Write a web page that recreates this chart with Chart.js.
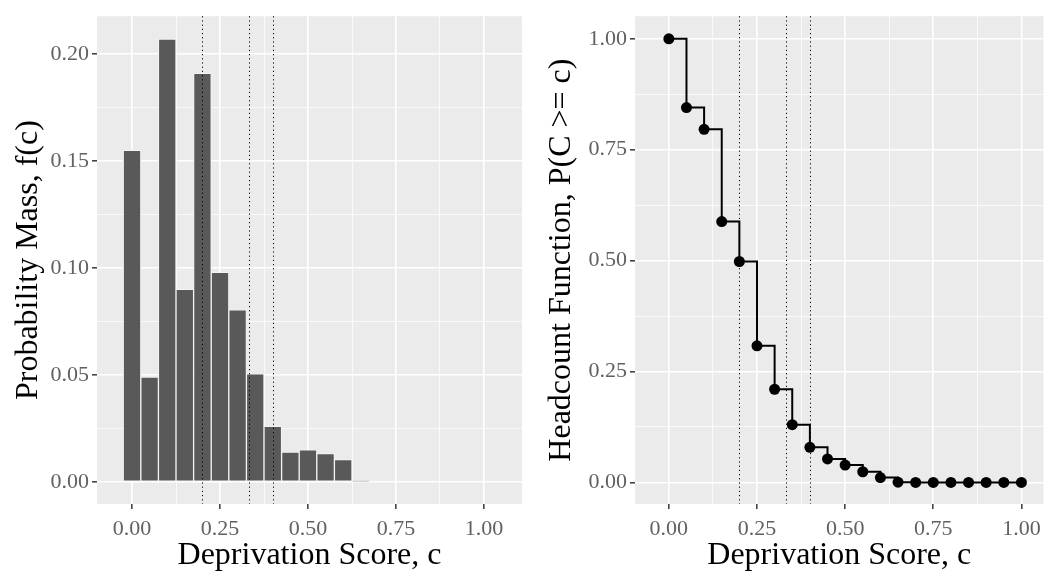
<!DOCTYPE html>
<html>
<head>
<meta charset="utf-8">
<script src="https://cdn.jsdelivr.net/npm/chart.js@4"></script>
<style>
  html, body { margin: 0; padding: 0; background: #fff; }
  #wrap { position: relative; width: 1049px; height: 572px; overflow: hidden; }
  #massChart { position: absolute; left: 0; top: 0; }
  #headChart { position: absolute; left: 530px; top: 0; }
</style>
</head>
<body>
<div id="wrap">
  <canvas id="massChart" width="528" height="572"></canvas>
  <canvas id="headChart" width="519" height="572"></canvas>
</div>
<script>
// deprivation scores (x) for both panels
const scores = [0, 0.05, 0.10, 0.15, 0.20, 0.25, 0.30, 0.35, 0.40, 0.45, 0.50,
                0.55, 0.60, 0.65, 0.70, 0.75, 0.80, 0.85, 0.90, 0.95, 1.00];
// left panel: probability mass f(c)
const massValues = [0.155, 0.049, 0.207, 0.090, 0.191, 0.098, 0.0805, 0.0505, 0.026,
                    0.014, 0.015, 0.0133, 0.0105, 0.0004];
// right panel: headcount P(C >= c)
const headValues = [1.000, 0.845, 0.796, 0.588, 0.498, 0.308, 0.210, 0.130, 0.079, 0.053,
                    0.039, 0.024, 0.011, 0.0005, 0, 0, 0, 0, 0, 0, 0];
// poverty cutoffs (dotted lines)
const cutoffs = [0.2, 1 / 3, 0.4];

const xTickLabels = ['0.00', '0.25', '0.50', '0.75', '1.00'];
const massTickLabels = ['0.00', '0.05', '0.10', '0.15', '0.20'];
const headTickLabels = ['0.00', '0.25', '0.50', '0.75', '1.00'];

const FONT = "'Liberation Serif', 'DejaVu Serif', serif";
const PANEL = '#EBEBEB';

// major ticks get a label, the ones in between are minor gridlines
function tickSet(labels, step) {
  const out = [];
  labels.forEach((lab, i) => {
    const v = parseFloat(lab);
    out.push({ value: v, label: lab, major: true });
    if (i < labels.length - 1) out.push({ value: v + step / 2, label: '', major: false });
  });
  return out;
}

function axis(opts) {
  const ticks = tickSet(opts.labels, opts.step);
  return {
    type: 'linear',
    position: opts.position,
    offset: false,
    min: opts.min,
    max: opts.max,
    afterBuildTicks: (scale) => {
      scale.ticks = ticks.map(t => ({ value: t.value, label: t.label, minorLine: !t.major }));
    },
    afterFit: (scale) => {
      if (opts.position === 'left') scale.width = opts.size;
      else scale.height = opts.size;
    },
    ticks: {
      autoSkip: false,
      maxRotation: 0,
      padding: opts.position === 'left' ? 3 : 7,
      color: '#616161',
      font: { family: FONT, size: 22 },
      callback: function (value, index) { return this.ticks[index].label; }
    },
    grid: {
      offset: false,
      color: (c) => (c.tick && c.tick.minorLine ? 'rgba(255,255,255,0.85)' : '#ffffff'),
      lineWidth: (c) => (c.tick && c.tick.minorLine ? 0.9 : 1.6),
      tickColor: (c) => (c.tick && c.tick.minorLine ? 'rgba(0,0,0,0)' : '#444'),
      tickLength: 5,
      drawTicks: true
    },
    border: { display: false },
    title: {
      display: true,
      text: opts.title,
      color: '#000',
      font: { family: FONT, size: 32 },
      padding: opts.titlePadding
    }
  };
}

const panelBg = {
  id: 'panelBg',
  beforeDraw(chart) {
    const a = chart.chartArea;
    const ctx = chart.ctx;
    ctx.save();
    ctx.fillStyle = PANEL;
    ctx.fillRect(a.left, a.top, a.right - a.left, a.bottom - a.top);
    ctx.restore();
  }
};

function cutoffLines(hook) {
  return {
    id: 'cutoffLines',
    [hook](chart) {
      const a = chart.chartArea;
      const ctx = chart.ctx;
      const xs = chart.scales.x;
      ctx.save();
      ctx.strokeStyle = '#000';
      ctx.lineWidth = 1;
      ctx.setLineDash([1.2, 3]);
      cutoffs.forEach(c => {
        const px = Math.round(xs.getPixelForValue(c)) + 0.5;
        ctx.beginPath();
        ctx.moveTo(px, a.top);
        ctx.lineTo(px, a.bottom);
        ctx.stroke();
      });
      ctx.restore();
    }
  };
}

new Chart(document.getElementById('massChart'), {
  type: 'bar',
  data: {
    datasets: [{
      data: massValues.map((v, i) => ({ x: scores[i], y: v })),
      backgroundColor: '#595959',
      borderColor: '#f4f4f4',
      borderWidth: 1,
      borderSkipped: false,
      barPercentage: 1,
      categoryPercentage: 1
    }]
  },
  options: {
    responsive: false,
    animation: false,
    layout: { padding: { top: 14, right: 6, left: 0, bottom: 0 } },
    plugins: { legend: { display: false }, tooltip: { enabled: false } },
    scales: {
      x: axis({ position: 'bottom', min: -0.0995, max: 1.108, labels: xTickLabels, step: 0.25,
        size: 68, title: 'Deprivation Score, c', titlePadding: { top: 0, bottom: -3 } }),
      y: axis({ position: 'left', min: -0.0103, max: 0.2177, labels: massTickLabels, step: 0.05,
        size: 97, title: 'Probability Mass, f(c)', titlePadding: { top: 9, bottom: 0 } })
    }
  },
  plugins: [panelBg, cutoffLines('afterDatasetsDraw')]
});

new Chart(document.getElementById('headChart'), {
  type: 'line',
  data: {
    datasets: [{
      data: headValues.map((v, i) => ({ x: scores[i], y: v })),
      stepped: 'before',
      borderColor: '#000',
      borderWidth: 2,
      pointRadius: 5.5,
      pointBackgroundColor: '#000',
      pointBorderColor: '#000',
      pointBorderWidth: 0,
      fill: false
    }]
  },
  options: {
    responsive: false,
    animation: false,
    layout: { padding: { top: 14, right: 0, left: 0, bottom: 0 } },
    plugins: { legend: { display: false }, tooltip: { enabled: false } },
    scales: {
      x: axis({ position: 'bottom', min: -0.096, max: 1.0626, labels: xTickLabels, step: 0.25,
        size: 68, title: 'Deprivation Score, c', titlePadding: { top: 0, bottom: -3 } }),
      y: axis({ position: 'left', min: -0.0487, max: 1.051, labels: headTickLabels, step: 0.25,
        size: 105, title: 'Headcount Function, P(C >= c)', titlePadding: { top: 12, bottom: 0 } })
    }
  },
  plugins: [panelBg, cutoffLines('beforeDatasetsDraw')]
});
</script>
</body>
</html>
